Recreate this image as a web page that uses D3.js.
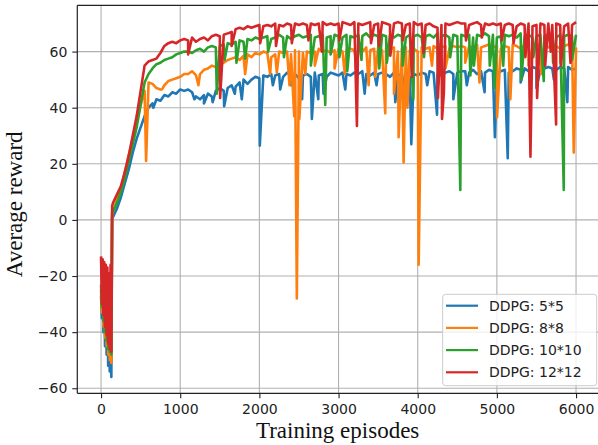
<!DOCTYPE html>
<html>
<head>
<meta charset="utf-8">
<script src="https://cdn.jsdelivr.net/npm/d3@7"></script>
<style>
  body { margin: 0; background: #fff; }
  .tick text { font-family: "DejaVu Sans", sans-serif; font-size: 14px; fill: #222; }
  .axis-label { font-family: "Liberation Serif", "Times New Roman", serif; font-size: 23px; fill: #111; }
  .legend text { font-family: "DejaVu Sans", sans-serif; font-size: 14px; fill: #222; }
</style>
</head>
<body>
<div id="chart"></div>
<script>

// episodes for the start of training (dense) and the rise
var startEpisodes = [0, 10, 20, 30, 40, 50, 60, 70, 80, 90, 100, 110, 120, 130, 140, 150, 200, 250, 300, 350, 400, 450, 500, 550];

var blueStart   = [-27, -35, -22, -40, -24, -45, -26, -48, -28, -52, -30, -54, -32, -56, 1, 1, 4, 8, 13, 18, 24, 29, 33, 37];
var orangeStart = [-25, -33, -20, -38, -22, -42, -24, -45, -26, -48, -28, -50, -30, -51, 2, 3, 7, 11, 17, 23, 29, 35, 41, 46];
var greenStart  = [-23, -31, -19, -36, -21, -40, -22, -43, -24, -46, -26, -47, -28, -48, 3, 3, 6, 10, 15, 21, 27, 33, 41, 49];
var redStart    = [-13, -30, -14, -34, -15, -38, -16, -41, -17, -44, -19, -46, -16, -47, 5, 6, 9, 12, 17, 23, 30, 37, 46, 55];

// plateau, one value every 50 episodes from 600 to 6000
var plateauEpisodes = d3.range(600, 6001, 50);

var blueValues = [
  40, 41.5, 43, 42.5, 44.5, 44, 45.5, 45, 46.5, 46,
  46.5, 45.5, 44, 43, 44.5, 45, 44, 46, 47, 46,
  47, 48, 47.5, 49, 50, 48.5, 50, 51, 50.5, 51.5,
  51, 52, 51.5, 52, 51, 52.5, 51.5, 52, 50.5, 51.5,
  52, 51, 52.5, 51.5, 52, 51, 52.5, 52, 51.5, 52.5,
  52, 51.5, 52.5, 52, 53, 52, 51.5, 52.5, 52, 52.5,
  52, 51, 52.5, 51.5, 52, 52.5, 51, 52, 51.5, 52.5,
  52, 53, 52.5, 52, 51.5, 52.5, 53, 52, 52.5, 53,
  53, 52.5, 53.5, 52, 53, 52.5, 53.5, 53, 52, 53,
  53.5, 52.5, 53, 54, 53.5, 54, 53, 54.5, 54, 53.5,
  54, 54.5, 54, 53.5, 54.5, 54, 54.5, 53.5, 54
];
var orangeValues = [
  49, 48.5, 47, 46.5, 48, 49.5, 50, 50.5, 51, 52,
  52, 53, 51.5, 52, 53.5, 54, 55, 54.5, 55.5, 56,
  57, 57.5, 58, 57, 58.5, 59, 58, 59.5, 59, 60,
  59.5, 58, 59, 60, 59.5, 60, 59, 60.5, 60, 59.5,
  60, 59.5, 60, 61, 60, 60.5, 59.5, 60.5, 61, 60,
  60.5, 61, 60.5, 61, 60, 61.5, 60.5, 61, 61.5, 60.5,
  61, 60.5, 61.5, 60, 61, 61.5, 60.5, 61, 60, 61.5,
  61, 61.5, 62, 61, 61.5, 62, 61, 62, 61.5, 62,
  61.5, 62, 61, 62.5, 61.5, 62, 62.5, 61.5, 62, 61,
  62, 61.5, 62.5, 62, 61, 62.5, 62, 61.5, 62, 62.5,
  62, 61.5, 62.5, 62, 61, 62, 62.5, 62, 61.5
];
var greenValues = [
  52, 54, 55.5, 56, 57, 57.5, 58, 59, 59.5, 60,
  60, 59.5, 60.5, 61, 60, 61.5, 62, 61.5, 62, 62.5,
  63, 62.5, 63.5, 64, 63.5, 64.5, 64, 65, 64.5, 65,
  65.5, 64.5, 65, 66, 65, 65.5, 64.5, 65.5, 66, 65,
  65.5, 66, 65, 65.5, 66, 65, 65.5, 66, 65.5, 65,
  66, 65.5, 65, 66, 65.5, 66.5, 65, 66, 65.5, 66,
  65.5, 66, 65, 66, 65.5, 65, 66, 65.5, 66, 65,
  65.5, 66, 65, 66.5, 65.5, 66, 65, 66, 65.5, 66,
  65.5, 66, 65, 66, 65.5, 66.5, 65.5, 66, 65, 65.5,
  66, 65.5, 66, 65, 66.5, 65.5, 66, 65, 65.5, 66,
  65.5, 66, 65.5, 65, 66, 65.5, 66, 65.5, 66
];
var redValues = [
  56.5, 57, 57.5, 59.5, 62, 63, 63.5, 63, 64, 64.5,
  64, 65, 63.5, 64.5, 65, 64, 65.5, 66, 65.5, 66,
  66.5, 67, 68, 68.5, 68, 69, 68.5, 69, 69.5, 69,
  69.5, 69, 70, 69.5, 69, 70, 69.5, 70, 69.5, 70,
  69.5, 70, 69.5, 70, 70.5, 69.5, 70, 69.5, 70, 70.5,
  70, 69.5, 70.5, 70, 69.5, 70, 70.5, 69.5, 70, 70.5,
  70, 69.5, 70, 70.5, 70, 69.5, 70, 70.5, 69.5, 70,
  69.5, 70, 69, 68.5, 69.5, 70, 69.5, 70, 70.5, 70,
  70, 69.5, 70, 70.5, 69.5, 70, 69.5, 70, 69.5, 70,
  69.5, 70, 69.5, 69, 70, 69.5, 70, 69, 69.5, 70,
  69.5, 70, 69.5, 70, 69.5, 69, 70, 69.5, 70.5
];

// sharp drops seen in the curves: [episode, reward]
var blueDips = [[660, 40], [1180, 43], [1300, 41.5], [1410, 42], [1555, 40.5], [1690, 45], [1778, 43], [2005, 26.5],
  [2170, 48], [2263, 46.5], [2400, 48], [2540, 43], [2663, 36], [2744, 43], [2810, 45], [3085, 46.5], [3330, 45],
  [3480, 48], [3717, 42], [3800, 47], [3919, 27], [4120, 48], [4244, 37.5], [4450, 43], [4620, 48], [4845, 45.5],
  [4975, 29.5], [5137, 22], [5300, 49], [5500, 47], [5720, 50], [5890, 42]];
var orangeDips = [[569, 21], [770, 46.5], [1230, 48], [1480, 50], [1820, 52], [2136, 52], [2220, 52.5], [2380, 48],
  [2440, 37], [2473, -28], [2505, 36], [2580, 52], [2700, 55], [2950, 54], [3080, 52], [3230, 55], [3380, 48],
  [3464, 51], [3590, 38], [3700, 45], [3759, 29.5], [3822, 20.5], [3870, 40], [4012, -16], [4180, 55], [4350, 54],
  [4600, 56], [4780, 49], [5002, 36.5], [5170, 43], [5400, 55], [5560, 52], [5800, 56], [5971, 24]];
var greenDips = [[1462, 45], [1560, 57], [1710, 56], [1820, 57.5], [2110, 60], [2310, 58], [2650, 55], [2832, 41],
  [2900, 59], [3010, 58], [3110, 53], [3290, 57], [3514, 54], [3610, 56], [3810, 55], [3944, 43], [4080, 58],
  [4255, 52], [4410, 58], [4538, 10.7], [4665, 51.5], [4710, 55], [4910, 55], [4970, 47], [5080, 55], [5310, 50],
  [5460, 58], [5592, 49.5], [5710, 56], [5845, 10.7], [5950, 57]];
var redDips = [[1100, 59], [1504, 43.5], [1650, 62], [2010, 63], [2210, 62], [2410, 63], [2620, 64], [2790, 60],
  [3010, 64], [3232, 33.5], [3410, 63], [3510, 62], [3654, 58.5], [3810, 64], [3927, 51], [4073, 59.5], [4255, 43.5],
  [4307, 36], [4330, 45], [4610, 64], [4810, 65], [5060, 64], [5210, 63], [5360, 58], [5424, 22.5], [5508, 43.5],
  [5610, 55], [5680, 60], [5748, 34], [5810, 55], [5930, 56]];

var seriesNames = ["DDPG: 5*5", "DDPG: 8*8", "DDPG: 10*10", "DDPG: 12*12"];
var seriesColors = ["#1f77b4", "#ff7f0e", "#2ca02c", "#d62728"];

var xTicks = [0, 1000, 2000, 3000, 4000, 5000, 6000];
var yTicks = [-60, -40, -20, 0, 20, 40, 60];

function buildSeries(start, values, dips) {
  var pts = [];
  startEpisodes.forEach(function (e, i) { pts.push([e, start[i]]); });
  plateauEpisodes.forEach(function (e, i) { pts.push([e, values[i]]); });
  dips.forEach(function (d) { pts.push([d[0], d[1]]); });
  pts.sort(function (a, b) { return a[0] - b[0]; });
  return pts;
}

var series = [
  buildSeries(blueStart, blueValues, blueDips),
  buildSeries(orangeStart, orangeValues, orangeDips),
  buildSeries(greenStart, greenValues, greenDips),
  buildSeries(redStart, redValues, redDips)
];

var W = 598, H = 445;
var plotLeft = 77.3, plotRight = 599.8, plotTop = 5.3, plotBottom = 393.3;

var svg = d3.select("#chart").append("svg")
  .attr("width", W)
  .attr("height", H);

var x = d3.scaleLinear().domain([-300, 6300]).range([plotLeft, plotRight]);
var y = d3.scaleLinear().domain([-61.8, 76.5]).range([plotBottom, plotTop]);

svg.append("defs").append("clipPath").attr("id", "plotclip")
  .append("rect")
  .attr("x", plotLeft).attr("y", plotTop)
  .attr("width", plotRight - plotLeft).attr("height", plotBottom - plotTop);

// grid
var grid = svg.append("g").attr("class", "grid");
grid.selectAll(".vgrid").data(xTicks).enter().append("line")
  .attr("x1", function (d) { return x(d); }).attr("x2", function (d) { return x(d); })
  .attr("y1", plotTop).attr("y2", plotBottom)
  .attr("stroke", "#b0b0b0").attr("stroke-width", 1.1);
grid.selectAll(".hgrid").data(yTicks).enter().append("line")
  .attr("x1", plotLeft).attr("x2", plotRight)
  .attr("y1", function (d) { return y(d); }).attr("y2", function (d) { return y(d); })
  .attr("stroke", "#b0b0b0").attr("stroke-width", 1.1);

// lines
var line = d3.line()
  .x(function (d) { return x(d[0]); })
  .y(function (d) { return y(d[1]); });

svg.append("g").attr("clip-path", "url(#plotclip)")
  .selectAll("path").data(series).enter().append("path")
  .attr("d", line)
  .attr("fill", "none")
  .attr("stroke", function (d, i) { return seriesColors[i]; })
  .attr("stroke-width", 2.6)
  .attr("stroke-linejoin", "round");

// axes
var xAxis = svg.append("g")
  .attr("transform", "translate(0," + plotBottom + ")")
  .call(d3.axisBottom(x).tickValues(xTicks).tickSize(5).tickPadding(6).tickSizeOuter(0)
    .tickFormat(d3.format("d")));
var yAxis = svg.append("g")
  .attr("transform", "translate(" + plotLeft + ",0)")
  .call(d3.axisLeft(y).tickValues(yTicks).tickSize(5).tickPadding(5).tickSizeOuter(0)
    .tickFormat(function (d) { return d < 0 ? "\u2212" + Math.abs(d) : d; }));

[xAxis, yAxis].forEach(function (a) {
  a.select(".domain").remove();
  a.selectAll(".tick line").attr("stroke", "#222").attr("stroke-width", 1.1);
});

// spines
svg.append("line").attr("x1", plotLeft).attr("x2", plotLeft).attr("y1", plotTop).attr("y2", plotBottom)
  .attr("stroke", "#222").attr("stroke-width", 1.2);
svg.append("line").attr("x1", plotLeft).attr("x2", W).attr("y1", plotBottom).attr("y2", plotBottom)
  .attr("stroke", "#222").attr("stroke-width", 1.2);
svg.append("line").attr("x1", plotLeft).attr("x2", W).attr("y1", plotTop).attr("y2", plotTop)
  .attr("stroke", "#222").attr("stroke-width", 1.2);

// axis titles
svg.append("text").attr("class", "axis-label")
  .attr("x", (plotLeft + W) / 2).attr("y", 438)
  .attr("text-anchor", "middle")
  .text("Training episodes");
svg.append("text").attr("class", "axis-label")
  .attr("transform", "translate(22," + ((plotTop + plotBottom) / 2 + 5) + ") rotate(-90)")
  .attr("text-anchor", "middle")
  .text("Average reward");

// legend
var legend = svg.append("g").attr("class", "legend");
legend.append("rect")
  .attr("x", 442.7).attr("y", 294.3).attr("width", 154).attr("height", 91.4)
  .attr("rx", 3)
  .attr("fill", "#fff").attr("fill-opacity", 0.8)
  .attr("stroke", "#cccccc").attr("stroke-width", 1);

var item = legend.selectAll(".item").data(seriesNames).enter().append("g")
  .attr("class", "item")
  .attr("transform", function (d, i) { return "translate(446," + (305.7 + i * 22.2) + ")"; });
item.append("line")
  .attr("x1", 0).attr("x2", 32)
  .attr("stroke", function (d, i) { return seriesColors[i]; })
  .attr("stroke-width", 2.2);
item.append("text")
  .attr("x", 43).attr("y", 5)
  .text(function (d) { return d; });

</script>
</body>
</html>
